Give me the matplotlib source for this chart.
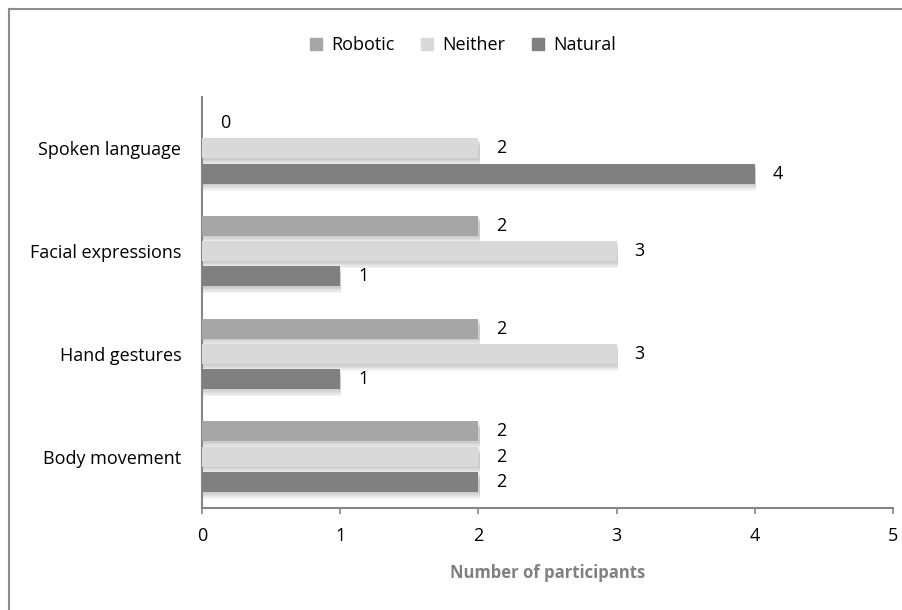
import matplotlib
matplotlib.use("Agg")
import matplotlib.pyplot as plt
import matplotlib.patheffects as pe
from matplotlib.lines import Line2D
from matplotlib.patches import Rectangle
import numpy as np

categories = ["Body movement", "Hand gestures", "Facial expressions", "Spoken language"]
series_names = ["Robotic", "Neither", "Natural"]
robotic = [2, 2, 2, 0]
neither = [2, 3, 3, 2]
natural = [2, 1, 1, 4]
colors = ["#a6a6a6", "#d9d9d9", "#808080"]
x_ticks = [0, 1, 2, 3, 4, 5]

plt.rcParams["font.family"] = ["Open Sans", "DejaVu Sans"]
FS = 13

fig = plt.figure(figsize=(9.02, 6.10), dpi=100)
ax = fig.add_axes([202 / 902, 1 - 508 / 610, (893 - 202) / 902, (508 - 97) / 610])

y = np.arange(len(categories))
bar_h = 0.195
offsets = [0.245, 0.0, -0.245]

# soft drop shadow built from stacked translucent copies
shadow = [pe.SimplePatchShadow(offset=(0.8, -k), shadow_rgbFace="#606060", alpha=0.07)
          for k in (1, 2, 3, 4, 5)] + [pe.Normal()]

for vals, off, col in zip([robotic, neither, natural], offsets, colors):
    ax.barh(y + off, vals, height=bar_h, color=col, edgecolor="none",
            path_effects=shadow, zorder=3)
    for yy, v in zip(y + off, vals):
        ax.annotate(str(v), xy=(v, yy), xytext=(13, 0), textcoords="offset points",
                    ha="left", va="center", fontsize=FS, color="#000000")

ax.set_xlim(0, 5)
ax.set_ylim(-0.5, len(categories) - 0.5)
ax.set_xticks(x_ticks)
ax.set_xticklabels([str(t) for t in x_ticks], fontsize=FS)
ax.set_yticks(y)
ax.set_yticklabels(categories, fontsize=FS)
ax.tick_params(axis="y", length=0, pad=15)
ax.tick_params(axis="x", length=4, width=1.2, color="#868686", pad=10)

for s in ["top", "right"]:
    ax.spines[s].set_visible(False)
for s in ["left", "bottom"]:
    ax.spines[s].set_color("#868686")
    ax.spines[s].set_linewidth(1.5)

ax.set_xlabel("Number of participants", fontsize=12, fontweight="bold", color="#808080", labelpad=13)

handles = [Rectangle((0, 0), 1, 1, color=c) for c in colors]
fig.legend(handles, series_names, loc="center", bbox_to_anchor=(463 / 902, 1 - 45 / 610), ncol=3,
           frameon=False, fontsize=FS, handlelength=0.65, handleheight=0.65,
           handletextpad=0.5, columnspacing=1.5)

# chart-area frame (left and top edges)
fig.add_artist(Line2D([8.5 / 902, 8.5 / 902], [0, 1 - 9 / 610], transform=fig.transFigure,
                      color="#8c8c8c", linewidth=1.5))
fig.add_artist(Line2D([8.5 / 902, 1], [1 - 9 / 610, 1 - 9 / 610], transform=fig.transFigure,
                      color="#8c8c8c", linewidth=1.5))

fig.savefig("out.png", dpi=100, facecolor="white")
